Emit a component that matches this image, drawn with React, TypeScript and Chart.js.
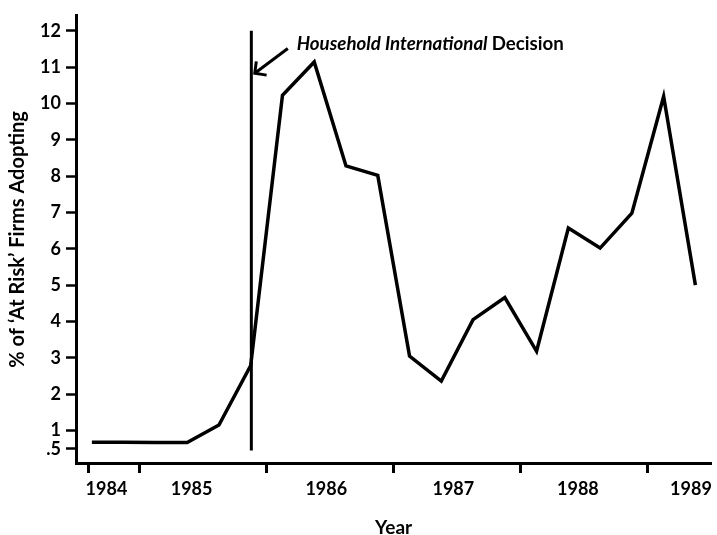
import { useEffect, useRef } from 'react';
import { Chart, registerables } from 'chart.js';

Chart.register(...registerables);

// Quarterly observations (x in fractional years, at quarter mid-points)
const quarters = [
  1984.625, 1984.875, 1985.125, 1985.375, 1985.625, 1985.875,
  1986.125, 1986.375, 1986.625, 1986.875,
  1987.125, 1987.375, 1987.625, 1987.875,
  1988.125, 1988.375, 1988.625, 1988.875,
  1989.125, 1989.375,
];
const adoptionPct = [
  0.68, 0.68, 0.67, 0.67, 1.15, 2.79,
  10.22, 11.14, 8.28, 8.02,
  3.05, 2.36, 4.05, 4.66,
  3.18, 6.57, 6.02, 6.98,
  10.19, 5.0,
];

// Household International decision marker
const decisionAt = 1985.88;
const decisionSpan = [0.45, 12];

// Axes
const yTickValues = [0.5, 1, 2, 3, 4, 5, 6, 7, 8, 9, 10, 11, 12];
const yTickLabels = ['.5', '1', '2', '3', '4', '5', '6', '7', '8', '9', '10', '11', '12'];
const yearTickMarks = [1984.6, 1985, 1986, 1987, 1988, 1989];
const yearLabels = ['1984', '1985', '1986', '1987', '1988', '1989'];
const yearLabelAt = [1984.74, 1985.41, 1986.47, 1987.47, 1988.45, 1989.34];

const noteItalic = 'Household International';
const noteRoman = 'Decision';

const FONT = 'Lato';

const notePlugin = {
  id: 'decisionNote',
  afterDraw(chart: any) {
    const { ctx, scales } = chart;
    const x = scales.x;
    const y = scales.y;
    ctx.save();
    ctx.fillStyle = '#000';
    ctx.strokeStyle = '#000';
    ctx.textAlign = 'left';
    ctx.textBaseline = 'alphabetic';
    const tx = x.getPixelForValue(1986.237);
    const ty = y.getPixelForValue(11.48);
    ctx.font = `italic bold 18.7px ${FONT}`;
    ctx.fillText(noteItalic, tx, ty);
    const w = ctx.measureText(noteItalic + ' ').width;
    ctx.font = `bold 18.7px ${FONT}`;
    ctx.fillText(noteRoman, tx + w, ty);

    // arrow
    const ax = x.getPixelForValue(1986.167);
    const ay = y.getPixelForValue(11.51);
    const bx = x.getPixelForValue(1985.907);
    const by = y.getPixelForValue(10.83);
    ctx.lineWidth = 3;
    ctx.lineCap = 'butt';
    ctx.beginPath();
    ctx.moveTo(ax, ay);
    ctx.lineTo(bx, by);
    ctx.stroke();
    const ang = Math.atan2(ay - by, ax - bx);
    const L = 12;
    ctx.beginPath();
    ctx.moveTo(bx + L * Math.cos(ang - 0.8), by + L * Math.sin(ang - 0.8));
    ctx.lineTo(bx, by);
    ctx.lineTo(bx + L * Math.cos(ang + 0.8), by + L * Math.sin(ang + 0.8));
    ctx.stroke();
    ctx.restore();
  },
};

export default function App() {
  const ref = useRef<HTMLCanvasElement | null>(null);
  useEffect(() => {
    if (!ref.current) return;
    const chart = new Chart(ref.current, {
      type: 'scatter',
      data: {
        datasets: [
          {
            data: quarters.map((q, i) => ({ x: q, y: adoptionPct[i] })),
            showLine: true,
            borderColor: '#000',
            borderWidth: 3.5,
            borderJoinStyle: 'miter',
            pointRadius: 0,
            tension: 0,
          },
          {
            data: decisionSpan.map((v) => ({ x: decisionAt, y: v })),
            showLine: true,
            borderColor: '#000',
            borderWidth: 3,
            pointRadius: 0,
          },
        ],
      } as any,
      options: {
        responsive: false,
        animation: false,
        layout: { padding: { top: 12, right: 5, left: 0, bottom: 0 } },
        plugins: { legend: { display: false }, tooltip: { enabled: false } },
        scales: {
          x: {
            type: 'linear',
            min: 1984.5,
            max: 1989.5,
            afterFit: (s: any) => { s.height = 72; },
            afterBuildTicks: (s: any) => {
              s.ticks = [...yearTickMarks, ...yearLabelAt]
                .sort((a, b) => a - b)
                .map((v) => ({ value: v }));
            },
            border: { display: true, color: '#000', width: 3 },
            grid: {
              display: true,
              drawOnChartArea: false,
              drawTicks: true,
              tickLength: 10,
              tickWidth: 3,
              tickColor: (c: any) =>
                c.tick && yearTickMarks.includes(c.tick.value) ? '#000' : 'rgba(0,0,0,0)',
            },
            ticks: {
              autoSkip: false,
              maxRotation: 0,
              padding: 5,
              color: '#000',
              font: { family: FONT, size: 18, weight: 'bold' },
              callback: (v: any) => {
                const i = yearLabelAt.indexOf(v);
                return i >= 0 ? yearLabels[i] : '';
              },
            },
            title: {
              display: true,
              text: 'Year',
              color: '#000',
              font: { family: FONT, size: 19, weight: 'bold', lineHeight: 0.8 },
              padding: { top: 0, bottom: 0 },
            },
          },
          y: {
            type: 'linear',
            min: 0.107,
            max: 12.41,
            afterFit: (s: any) => { s.width = 76; },
            afterBuildTicks: (s: any) => {
              s.ticks = yTickValues.map((v) => ({ value: v }));
            },
            border: { display: true, color: '#000', width: 3 },
            grid: {
              display: true,
              drawOnChartArea: false,
              tickLength: 10,
              tickWidth: 2.5,
              tickColor: '#000',
            },
            ticks: {
              autoSkip: false,
              padding: 5,
              color: '#000',
              font: { family: FONT, size: 18, weight: 'bold' },
              callback: (v: any) => {
                const i = yTickValues.indexOf(v);
                return i >= 0 ? yTickLabels[i] : '';
              },
            },
            title: {
              display: true,
              text: '% of ‘At Risk’ Firms Adopting',
              color: '#000',
              font: { family: FONT, size: 20, weight: 'bold', lineHeight: 1.2 },
              padding: { top: 6, bottom: 0 },
            },
          },
        },
      } as any,
      plugins: [notePlugin],
    });
    return () => chart.destroy();
  }, []);
  return (
    <div style={{ position: 'absolute', left: 0, top: 0, width: 717, height: 535, background: '#fff' }}>
      <canvas ref={ref} width={717} height={535} />
    </div>
  );
}
